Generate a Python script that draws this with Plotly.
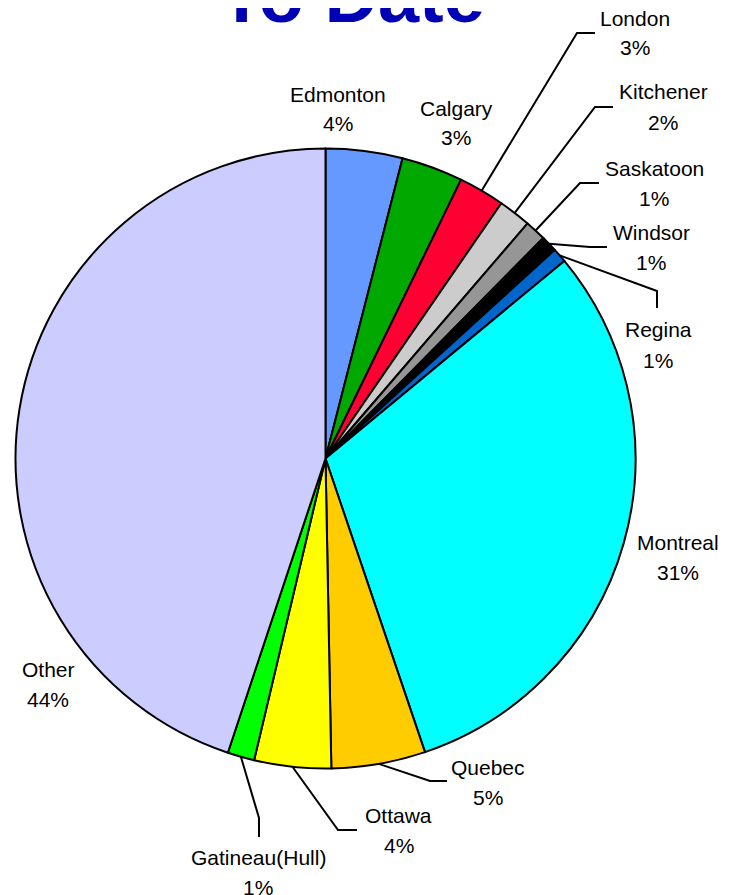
import math
import plotly.graph_objects as go

# ---- data ----
cities = ["Edmonton", "Calgary", "London", "Kitchener", "Saskatoon", "Windsor",
          "Regina", "Montreal", "Quebec", "Ottawa", "Gatineau(Hull)", "Other"]
shares = [4.0, 3.2, 2.4, 1.7, 1.1, 0.85, 0.75, 30.8, 4.9, 4.0, 1.4, 44.9]
pct_labels = ["4%", "3%", "3%", "2%", "1%", "1%", "1%", "31%", "5%", "4%", "1%", "44%"]
colors = ["#6699FF", "#00A800", "#FF0033", "#CCCCCC", "#969696", "#000000",
          "#0066CC", "#00FFFF", "#FFCC00", "#FFFF00", "#00FF00", "#CCCCFF"]

# ---- layout constants (page pixels) ----
PAGE_W, PAGE_H = 734, 895
OFF = 8                      # default body margin of the html page
W, H = PAGE_W - OFF, PAGE_H - OFF
CX, CY, R = 325.5, 458.5, 310
FONT = "Arial, 'Liberation Sans', sans-serif"

# label centre positions (name line); percent line sits 30px below
label_pos = {
    "Edmonton": (338, 94), "Calgary": (456, 108), "London": (635, 18),
    "Kitchener": (663, 92), "Saskatoon": (654, 168), "Windsor": (651, 232),
    "Regina": (658, 330), "Montreal": (678, 542), "Quebec": (488, 767),
    "Ottawa": (399, 815), "Gatineau(Hull)": (258, 857), "Other": (48, 669),
}
# leader line elbow and end points
leaders = {
    "London": [(577, 33), (595, 33)],
    "Kitchener": [(595, 107), (613, 107)],
    "Saskatoon": [(580, 183), (599, 183)],
    "Windsor": [(590, 247), (607, 247)],
    "Regina": [(657, 291), (657, 308)],
    "Quebec": [(430, 781), (447, 781)],
    "Ottawa": [(338, 830), (357, 830)],
    "Gatineau(Hull)": [(259, 818), (259, 837)],
}


def px(x):
    return (x - OFF) / W


def py(y):
    return 1 - (y - OFF) / H


fig = go.Figure(go.Pie(
    labels=cities, values=shares, sort=False, direction="clockwise", rotation=0,
    marker=dict(colors=colors, line=dict(color="#000000", width=2)),
    textinfo="none", hoverinfo="label+percent", showlegend=False,
    domain=dict(x=[px(CX - R), px(CX + R)], y=[py(CY + R), py(CY - R)]),
))

annotations = []
shapes = []
total = sum(shares)
cum = 0.0
for name, v, pct in zip(cities, shares, pct_labels):
    mid = (cum + v / 2) / total * 2 * math.pi
    cum += v
    lx, ly = label_pos[name]
    for txt, yy in ((name, ly), (pct, ly + 30)):
        annotations.append(dict(
            x=px(lx), y=py(yy), xref="paper", yref="paper", text=txt,
            showarrow=False, xanchor="center", yanchor="middle",
            font=dict(family=FONT, size=21, color="#000000")))
    if name in leaders:
        ax = CX + R * math.sin(mid)
        ay = CY - R * math.cos(mid)
        pts = [(ax, ay)] + leaders[name]
        path = "M " + " L ".join(f"{px(x):.5f},{py(y):.5f}" for x, y in pts)
        shapes.append(dict(type="path", xref="paper", yref="paper", path=path,
                           line=dict(color="#000000", width=2)))

annotations.append(dict(
    x=px(351.5), y=py(-3.5), xref="paper", yref="paper", text="<b>To Date</b>",
    showarrow=False, xanchor="center", yanchor="middle",
    font=dict(family=FONT, size=74, color="#0000B4")))

fig.update_layout(
    width=W, height=H, margin=dict(l=0, r=0, t=0, b=0),
    paper_bgcolor="#FFFFFF", plot_bgcolor="#FFFFFF",
    annotations=annotations, shapes=shapes,
)

fig.write_html("out.html")
